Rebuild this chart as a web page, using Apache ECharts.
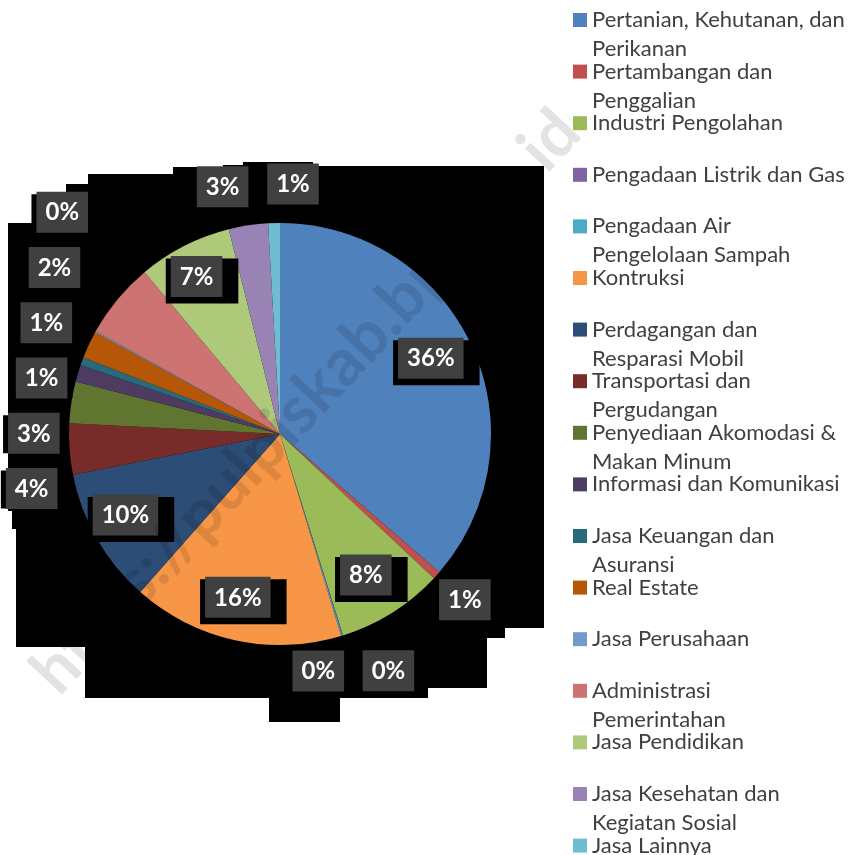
<!DOCTYPE html>
<html>
<head>
<meta charset="utf-8">
<script src="https://cdn.jsdelivr.net/npm/echarts@6/dist/echarts.min.js"></script>
<style>
  html, body { margin: 0; padding: 0; background: #fff; }
  #chart { width: 854px; height: 855px; }
</style>
</head>
<body>
<div id="chart"></div>
<script>
// Distribusi PDRB per lapangan usaha (persen), urutan searah jarum jam dari atas
const sectors = [
  'Pertanian, Kehutanan, dan\nPerikanan',
  'Pertambangan dan\nPenggalian',
  'Industri Pengolahan',
  'Pengadaan Listrik dan Gas',
  'Pengadaan Air\nPengelolaan Sampah',
  'Kontruksi',
  'Perdagangan dan\nResparasi Mobil',
  'Transportasi dan\nPergudangan',
  'Penyediaan Akomodasi &\nMakan Minum',
  'Informasi dan Komunikasi',
  'Jasa Keuangan dan\nAsuransi',
  'Real Estate',
  'Jasa Perusahaan',
  'Administrasi\nPemerintahan',
  'Jasa Pendidikan',
  'Jasa Kesehatan dan\nKegiatan Sosial',
  'Jasa Lainnya',
];
const shares = [36.4, 0.6, 8.2, 0.05, 0.1, 16.2, 10.4, 3.9, 3.2, 1.3, 0.6, 2.1, 0.1, 5.8, 7.2, 3.0, 0.9];
const colors = [
  '#4F81BD', '#C0504D', '#9BBB59', '#8064A2', '#4BACC6', '#F79646',
  '#2C4D75', '#772C2A', '#5F7530', '#4D3B62', '#276A7C', '#B65708',
  '#729ACA', '#CD7371', '#AFC97A', '#9983B5', '#6FBDD1',
];

const CX = 280, CY = 434, R = 211;
const INSIDE_MIN = 5; // irisan >= 5% labelnya di dalam

// Label luar: mulai di sudut tengah irisan, lalu didorong supaya kotak tidak
// bertumpuk. Di sisi kiri/kanan didorong vertikal (sedikit lebih ke atas),
// di atas/bawah didorong horizontal -- kira-kira seperti Excel.
const DEG = Math.PI / 180;
const LR = R * 1.18, BW = 70, BH = 55;
const UP = 0.55, DOWN = 0.45;
const total = shares.reduce((a, b) => a + b, 0);
let acc = 0;
const midAngle = shares.map(v => { const a = (acc + v / 2) / total * 360; acc += v; return a; });
const outIdx = shares.map((v, i) => i).filter(i => shares[i] < INSIDE_MIN);
const pos = {};
outIdx.forEach(i => {
  const a = midAngle[i] * DEG;
  pos[i] = [CX + LR * Math.sin(a), CY - LR * Math.cos(a)];
});
for (let it = 0; it < 5000; it++) {
  let moved = false;
  for (let k = 0; k < outIdx.length; k++) {
    for (let m = k + 1; m < outIdx.length; m++) {
      const i = outIdx[k], j = outIdx[m];
      const dx = pos[j][0] - pos[i][0], dy = pos[j][1] - pos[i][1];
      if (Math.abs(dx) >= BW || Math.abs(dy) >= BH) continue;
      moved = true;
      const am = (midAngle[i] + midAngle[j]) / 2 * DEG;
      if (Math.abs(Math.sin(am)) > Math.abs(Math.cos(am))) {
        if (Math.sin(am) < 0) { pos[j][1] -= UP; pos[i][1] += DOWN; }
        else { pos[j][1] += DOWN; pos[i][1] -= UP; }
      } else {
        const c = Math.sign(Math.cos(am));
        pos[j][0] += 0.5 * c; pos[i][0] -= 0.5 * c;
      }
    }
  }
  if (!moved) break;
}

const chart = echarts.init(document.getElementById('chart'), null, { renderer: 'canvas' });

const data = sectors.map((name, i) => ({ name, value: shares[i] }));
const pct = p => `{b|${Math.round(p.percent)}%}`;
const boxRich = {
  b: {
    backgroundColor: '#404040', color: '#fff', fontFamily: 'Lato', fontWeight: 'bold',
    fontSize: 24, lineHeight: 24, padding: [9, 9, 8, 9],
  },
};

const ringData = (showFn) => data.map(d => ({ ...d, label: { show: showFn(d.value) } }));

// latar hitam di belakang pie (artefak gambar asli)
const blackPoly = [
  [8, 223], [38, 223], [38, 218], [66, 218], [66, 184], [88, 184], [88, 174], [173, 174],
  [173, 167], [223, 167], [223, 165], [243, 165], [243, 162], [313, 162], [313, 166],
  [544, 166], [544, 628], [505, 628], [505, 638], [487, 638], [487, 688], [428, 688],
  [428, 698], [340, 698], [340, 722], [269, 722], [269, 698], [85, 698], [85, 647],
  [16, 647], [16, 529], [12, 529], [12, 511], [8, 511],
];

chart.setOption({
  backgroundColor: '#fff',
  animation: false,
  color: colors,
  graphic: [
    { type: 'polygon', z: -10, silent: true, shape: { points: blackPoly }, style: { fill: '#000' } },
    {
      type: 'text', z: 100, silent: true, x: 306, y: 402, rotation: 0.82,
      style: {
        text: 'https://pulpiskab.bps.go.id', font: 'bold 66px Lato',
        fill: 'rgba(0,0,0,0.11)', align: 'center', verticalAlign: 'middle',
      },
    },
  ],
  legend: {
    orient: 'vertical',
    left: 573,
    top: -23.5,
    height: 1200,
    padding: 0,
    itemGap: -35.4,
    itemWidth: 14,
    itemHeight: 14,
    icon: 'rect',
    data: sectors,
    selectedMode: false,
    formatter: name => {
      const lines = name.split('\n');
      if (lines.length < 2) lines.push('\u00a0');
      return '\u00a0\n' + lines.join('\n');
    },
    textStyle: { fontFamily: 'Lato', fontSize: 22, lineHeight: 29, color: '#404040' },
  },
  series: [
    {
      type: 'pie',
      center: [CX, CY],
      radius: [0, R],
      startAngle: 90,
      data,
      label: { show: false },
      labelLine: { show: false },
      silent: true,
      itemStyle: { borderWidth: 0 },
    },
    {
      type: 'pie',
      center: [CX, CY],
      radius: [R * 0.6, R],
      startAngle: 90,
      avoidLabelOverlap: false,
      silent: true,
      itemStyle: { color: 'transparent' },
      labelLine: { show: false },
      label: {
        position: 'inside', formatter: pct, rich: boxRich,
        backgroundColor: '#000', padding: [6, 16, 15, 5],
      },
      data: ringData(v => v >= INSIDE_MIN),
    },
    {
      type: 'pie',
      center: [CX, CY],
      radius: [R, R * 1.36],
      startAngle: 90,
      avoidLabelOverlap: false,
      silent: true,
      itemStyle: { color: 'transparent' },
      labelLine: { show: false },
      label: {
        position: 'inside', formatter: pct, rich: boxRich,
        backgroundColor: '#000', padding: [6, 5, 8, 5],
      },
      labelLayout: p => {
        const q = pos[p.dataIndex];
        if (!q) return {};
        return { x: q[0], y: q[1], align: 'center', verticalAlign: 'middle' };
      },
      data: ringData(v => v < INSIDE_MIN),
    },
  ],
});
</script>
</body>
</html>
